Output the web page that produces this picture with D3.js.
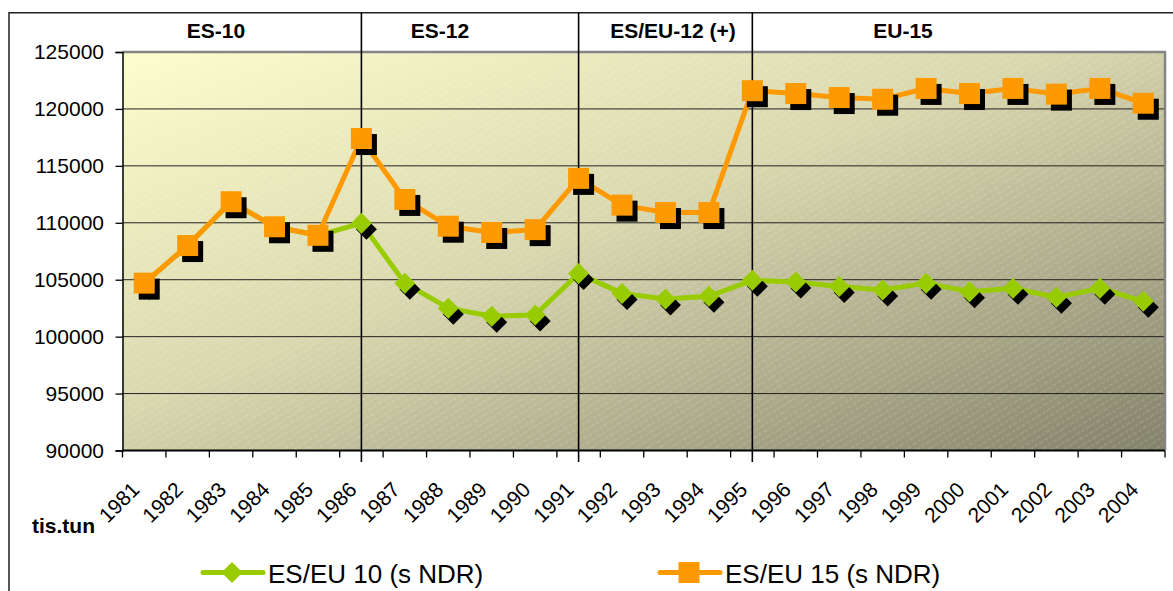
<!DOCTYPE html>
<html>
<head>
<meta charset="utf-8">
<script src="https://cdn.jsdelivr.net/npm/d3@7"></script>
<style>
  body { margin: 0; background: #fff; }
  svg { display: block; font-family: Arial, "Liberation Sans", sans-serif; }
</style>
</head>
<body>
<svg id="chart" width="1173" height="591"></svg>
<script>
// data
const years = ["1981","1982","1983","1984","1985","1986","1987","1988","1989","1990","1991","1992",
               "1993","1994","1995","1996","1997","1998","1999","2000","2001","2002","2003","2004"]
const es10 = [104700,108000,111850,109650,108900,109950,104700,102500,101800,101900,105550,103800,
              103300,103550,104950,104800,104400,104100,104700,103950,104250,103450,104250,103100]
const eu15 = [104700,108000,111850,109650,108900,117400,112050,109700,109150,109400,113900,111550,
              110900,110900,121600,121350,121000,120850,121800,121350,121800,121300,121800,120500]
const yTicks = [90000,95000,100000,105000,110000,115000,120000,125000]
const periods = ["ES-10","ES-12","ES/EU-12 (+)","EU-15"]
const splitYears = ["1986","1991","1995"]
const seriesNames = ["ES/EU 10 (s NDR)","ES/EU 15 (s NDR)"]
const seriesColors = ["#99CC00","#FF9900"]

// layout
const plot = {left: 122.5, right: 1165, top: 52, bottom: 450.5}
const headerX = [216, 440, 673, 903]
const legendX = [203, 660]

const svg = d3.select("#chart")
const defs = svg.append("defs")

const grad = defs.append("linearGradient").attr("id", "bg")
    .attr("x1", 0).attr("y1", 0).attr("x2", 1).attr("y2", 1)
grad.append("stop").attr("offset", "0%").attr("stop-color", "#FDFDCD")
grad.append("stop").attr("offset", "45%").attr("stop-color", "#D9D7AE")
grad.append("stop").attr("offset", "100%").attr("stop-color", "#83826A")

const pat = defs.append("pattern").attr("id", "stripes")
    .attr("patternUnits", "userSpaceOnUse").attr("width", 12).attr("height", 6)
    .attr("patternTransform", "rotate(-32)")
pat.append("line").attr("x1", 0).attr("y1", 3).attr("x2", 12).attr("y2", 3)
    .attr("stroke", "#fff").attr("stroke-opacity", 0.22).attr("stroke-width", 1)
    .attr("stroke-dasharray", "3 2")

const x = d3.scaleBand().domain(years).range([plot.left, plot.right]).padding(0)
const y = d3.scaleLinear().domain([90000, 125000]).range([plot.bottom, plot.top])
const cx = d => x(d) + x.bandwidth() / 2

// outer frame
svg.append("path").attr("d", "M1190,12.7H9V600")
    .attr("fill", "none").attr("stroke", "#222").attr("stroke-width", 1.5)

// plot background
svg.append("rect").attr("x", plot.left).attr("y", plot.top)
    .attr("width", plot.right - plot.left).attr("height", plot.bottom - plot.top)
    .attr("fill", "url(#bg)")
svg.append("rect").attr("x", plot.left).attr("y", plot.top)
    .attr("width", plot.right - plot.left).attr("height", plot.bottom - plot.top)
    .attr("fill", "url(#stripes)")

// gridlines
svg.append("g").selectAll("line").data(yTicks.slice(1, -1)).join("line")
    .attr("x1", plot.left).attr("x2", plot.right)
    .attr("y1", d => y(d)).attr("y2", d => y(d))
    .attr("stroke", "#222").attr("stroke-width", 1)

// plot border top/right
svg.append("path").attr("d", `M${plot.left},${plot.top}H${plot.right}V${plot.bottom}`)
    .attr("fill", "none").attr("stroke", "#858585").attr("stroke-width", 2.5)

// y axis
const yAxis = svg.append("g").attr("transform", `translate(${plot.left},0)`)
    .call(d3.axisLeft(y).tickValues(yTicks).tickSize(7).tickPadding(11.5).tickFormat(d3.format("d")))
yAxis.select(".domain").attr("stroke", "#000").attr("stroke-width", 1.5)
yAxis.selectAll(".tick line").attr("stroke", "#000").attr("stroke-width", 1.3)
yAxis.selectAll("text").attr("font-size", 21).attr("fill", "#000")
    .attr("font-family", "Arial, 'Liberation Sans', sans-serif")

// x axis
svg.append("line").attr("x1", plot.left).attr("x2", plot.right)
    .attr("y1", plot.bottom).attr("y2", plot.bottom)
    .attr("stroke", "#000").attr("stroke-width", 2)
svg.append("g").selectAll("line").data(years.map(d => x(d)).concat([plot.right])).join("line")
    .attr("x1", d => d).attr("x2", d => d)
    .attr("y1", plot.bottom).attr("y2", plot.bottom + 7)
    .attr("stroke", "#000").attr("stroke-width", 1.3)
svg.append("g").selectAll("text").data(years).join("text")
    .attr("transform", d => `translate(${cx(d) - 3.5},491) rotate(-45)`)
    .attr("text-anchor", "end").attr("font-size", 21).attr("fill", "#000")
    .text(d => d)

svg.append("text").attr("x", 32).attr("y", 533).attr("font-size", 21)
    .attr("font-weight", "bold").text("tis.tun")

// period separators and headers
svg.append("g").selectAll("line").data(splitYears).join("line")
    .attr("x1", d => cx(d)).attr("x2", d => cx(d))
    .attr("y1", 12.7).attr("y2", 462)
    .attr("stroke", "#000").attr("stroke-width", 1.6)
svg.append("g").selectAll("text").data(periods).join("text")
    .attr("x", (d, i) => headerX[i]).attr("y", 37.5)
    .attr("text-anchor", "middle").attr("font-size", 21).attr("font-weight", "bold")
    .text(d => d)

// series
const diamond = "M0,-10.5L10.5,0L0,10.5L-10.5,0Z"
const square = "M-10.5,-10.5H10.5V10.5H-10.5Z"
const markers = [diamond, square]
const series = [es10, eu15]
const line = d3.line().x((d, i) => cx(years[i])).y(d => y(d))

series.forEach((vals, k) => {
  const g = svg.append("g")
  g.append("path").attr("d", line(vals)).attr("fill", "none")
      .attr("stroke", seriesColors[k]).attr("stroke-width", 5).attr("stroke-linejoin", "round")
  g.selectAll(".shadow").data(vals).join("path").attr("class", "shadow")
      .attr("d", markers[k]).attr("fill", "#000")
      .attr("transform", (d, i) => `translate(${cx(years[i]) + 5},${y(d) + 6})`)
  g.selectAll(".mark").data(vals).join("path").attr("class", "mark")
      .attr("d", markers[k]).attr("fill", seriesColors[k])
      .attr("transform", (d, i) => `translate(${cx(years[i])},${y(d)})`)
})

// legend
const leg = svg.append("g").selectAll("g").data(seriesNames).join("g")
    .attr("transform", (d, i) => `translate(${legendX[i]},572.5)`)
leg.append("line").attr("x1", 0).attr("x2", 60)
    .attr("stroke", (d, i) => seriesColors[i]).attr("stroke-width", 5).attr("stroke-linecap", "round")
leg.append("path").attr("d", (d, i) => markers[i]).attr("transform", "translate(29,0)")
    .attr("fill", (d, i) => seriesColors[i])
leg.append("text").attr("x", 65).attr("y", 10).attr("font-size", 26).text(d => d)
</script>
</body>
</html>
